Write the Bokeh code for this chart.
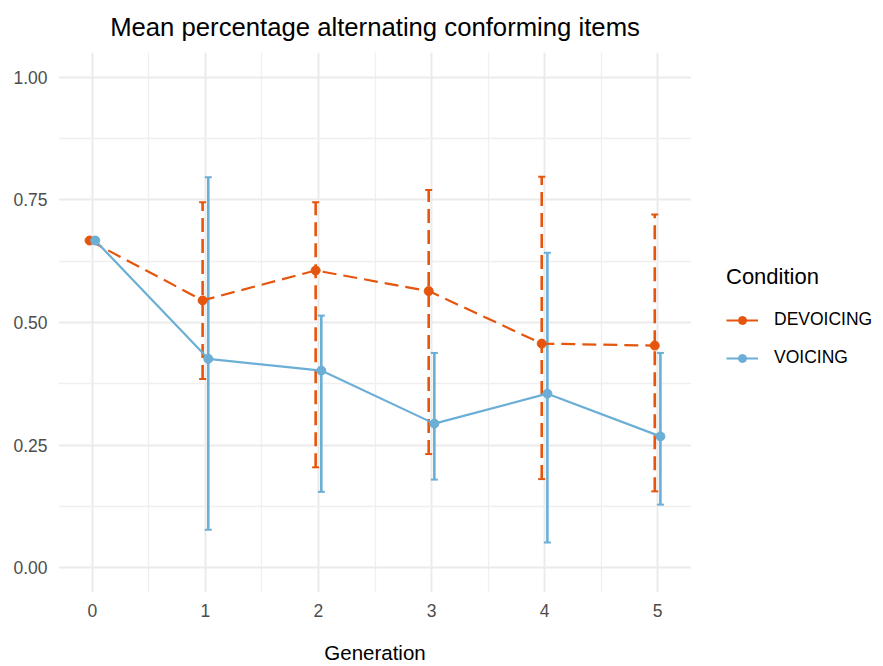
from bokeh.plotting import figure
from bokeh.layouts import row
from bokeh.models import (ColumnDataSource, Whisker, TeeHead, Legend, LegendItem,
                          FixedTicker, Range1d, NumeralTickFormatter)
from bokeh.embed import file_html
from bokeh.resources import INLINE

# Mean share of alternating conforming items per generation, with interval bounds
generation = [0, 1, 2, 3, 4, 5]
conditions = ["DEVOICING", "VOICING"]

devoicing_mean = [0.667, 0.545, 0.606, 0.564, 0.457, 0.453]
devoicing_lower = [0.667, 0.385, 0.205, 0.232, 0.181, 0.156]
devoicing_upper = [0.667, 0.745, 0.745, 0.770, 0.797, 0.720]

voicing_mean = [0.667, 0.426, 0.402, 0.294, 0.355, 0.268]
voicing_lower = [0.667, 0.078, 0.155, 0.180, 0.052, 0.129]
voicing_upper = [0.667, 0.796, 0.514, 0.438, 0.642, 0.438]

y_ticks = [0.0, 0.25, 0.5, 0.75, 1.0]

ORANGE = "#E6550D"
BLUE = "#6BAED6"
FONT = "Liberation Sans"
DODGE = 0.025

p = figure(frame_width=633, frame_height=540, output_backend="svg",
           toolbar_location=None,
           x_range=Range1d(-0.3, 5.3), y_range=Range1d(-0.05, 1.05),
           min_border_left=58, min_border_right=0,
           min_border_top=52, min_border_bottom=74)
p.outline_line_color = None
p.background_fill_color = "white"
p.border_fill_color = "white"

p.title.text = "Mean percentage alternating conforming items"
p.title.align = "center"
p.title.vertical_align = "top"
p.title.text_font = FONT
p.title.text_font_size = "25.7px"
p.title.text_font_style = "normal"
p.title.text_color = "black"
p.title.standoff = 20

# grid in the spirit of a minimal theme
for g in (p.xgrid[0], p.ygrid[0]):
    g.grid_line_color = "#EBEBEB"
    g.grid_line_width = 2
    g.minor_grid_line_color = "#EFEFEF"
    g.minor_grid_line_width = 1.3

p.xaxis.ticker = FixedTicker(ticks=generation,
                             minor_ticks=[g - 0.5 for g in generation] + [generation[-1] + 0.5])
p.yaxis.ticker = FixedTicker(ticks=y_ticks,
                             minor_ticks=[t + 0.125 for t in y_ticks[:-1]])
p.yaxis.formatter = NumeralTickFormatter(format="0.00")

for ax in (p.xaxis[0], p.yaxis[0]):
    ax.axis_line_color = None
    ax.major_tick_line_color = None
    ax.minor_tick_line_color = None
    ax.major_tick_out = 0
    ax.major_tick_in = 0
    ax.minor_tick_out = 0
    ax.minor_tick_in = 0
    ax.major_label_text_font = FONT
    ax.major_label_text_font_size = "17.5px"
    ax.major_label_text_color = "#4D4D4D"
p.yaxis.major_label_standoff = 11
p.xaxis.major_label_standoff = 11
p.xaxis.axis_label = "Generation"
p.xaxis.axis_label_text_font = FONT
p.xaxis.axis_label_text_font_size = "20.5px"
p.xaxis.axis_label_text_font_style = "normal"
p.xaxis.axis_label_text_color = "black"
p.xaxis.axis_label_standoff = 21

series = [
    (devoicing_mean, devoicing_lower, devoicing_upper, -DODGE, ORANGE, "14 7"),
    (voicing_mean, voicing_lower, voicing_upper, DODGE, BLUE, "solid"),
]

sources = []
for mean, lower, upper, shift, color, dash in series:
    src = ColumnDataSource(dict(x=[g + shift for g in generation],
                                mean=mean, lower=lower, upper=upper))
    sources.append(src)
    p.line("x", "mean", source=src, line_color=color, line_width=2.2,
           line_dash=dash)
    p.scatter("x", "mean", source=src, size=9, fill_color=color,
              line_color=color)
    p.add_layout(Whisker(base="x", lower="lower", upper="upper", source=src,
                         line_color=color, line_width=2.6, line_dash=dash,
                         upper_head=TeeHead(size=7, line_color=color, line_width=2),
                         lower_head=TeeHead(size=7, line_color=color, line_width=2)))

# legend panel on the right; its ranges keep the key renderers out of view
key = figure(width=192, height=666, output_backend="svg", toolbar_location=None,
             x_axis_type=None, y_axis_type=None, min_border=0,
             x_range=Range1d(-10, -9), y_range=Range1d(-0.05, 1.05))
key.outline_line_color = None
key.background_fill_color = "white"
key.border_fill_color = "white"
key.xgrid.grid_line_color = None
key.ygrid.grid_line_color = None

items = []
for name, src, (_, _, _, _, color, dash) in zip(conditions, sources, series):
    ln = key.line("x", "mean", source=src, line_color=color, line_width=2.2,
                  line_dash=dash, line_dash_offset=2)
    pt = key.scatter("x", "mean", source=src, size=9, fill_color=color,
                     line_color=color)
    items.append(LegendItem(label=name, renderers=[ln, pt], index=0))

legend = Legend(items=items, title="Condition",
                title_text_font=FONT, title_text_font_size="22px",
                title_text_font_style="normal", title_text_color="black",
                title_standoff=19,
                label_text_font=FONT, label_text_font_size="17.5px",
                label_text_color="black",
                glyph_width=32, glyph_height=20, label_height=20,
                label_standoff=16, spacing=17, padding=0, margin=0,
                border_line_alpha=0, background_fill_alpha=0,
                location=(35, 224))
key.add_layout(legend)

layout = row(p, key, spacing=0)
open("out.html", "w").write(file_html(layout, INLINE))
